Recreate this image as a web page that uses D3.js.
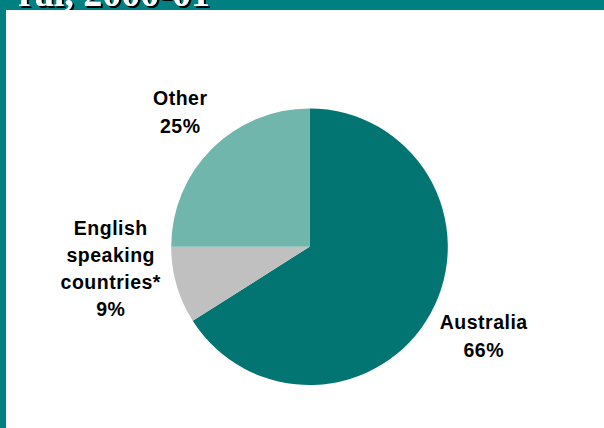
<!DOCTYPE html>
<html>
<head>
<meta charset="utf-8">
<script src="https://cdn.jsdelivr.net/npm/d3@7"></script>
<style>
  html, body { margin: 0; padding: 0; background: #ffffff; }
  svg { display: block; }
</style>
</head>
<body>
<script>
// ---- Data ----
const categories = ["Australia", "English speaking countries*", "Other"];
const labelLines = [["Australia"], ["English", "speaking", "countries*"], ["Other"]];
const values = [66, 9, 25];
const colors = ["#027572", "#C0C0C0", "#70B6AC"];
const titleText = "ral, 2000-01";

// ---- Layout ----
const W = 604, H = 428;
const cx = 309.5, cy = 246.7, R = 138.3;
const labelRadius = [195.6, 200.2, 186.8];
const labelNudgeDeg = [-1.6, 9.9, 1.1];
const lineH = [28, 27, 28];
const capH = 14;

const svg = d3.select("body").append("svg")
  .attr("width", W).attr("height", H);

// background and frame
svg.append("rect").attr("x", 0).attr("y", 0).attr("width", W).attr("height", H).attr("fill", "#ffffff");
svg.append("rect").attr("x", 0).attr("y", 0).attr("width", W).attr("height", 10).attr("fill", "#008080");
svg.append("rect").attr("x", 0).attr("y", 0).attr("width", 6).attr("height", H).attr("fill", "#008080");

// clipped title (mostly off-canvas), white with drop shadow
const defs = svg.append("defs");
defs.append("clipPath").attr("id", "titleClip")
  .append("rect").attr("x", 0).attr("y", 0).attr("width", W).attr("height", 10);
const f = defs.append("filter").attr("id", "shadow")
  .attr("x", "-5%").attr("y", "-20%").attr("width", "110%").attr("height", "140%");
f.append("feDropShadow").attr("dx", 2).attr("dy", 2).attr("stdDeviation", 0)
  .attr("flood-color", "#000").attr("flood-opacity", 1);
const tg = svg.append("g").attr("clip-path", "url(#titleClip)");
tg.append("text").attr("x", 210).attr("y", 6).attr("text-anchor", "end")
  .attr("font-family", "Liberation Serif, Times New Roman, serif").attr("font-weight", "bold")
  .attr("font-size", 38).attr("fill", "#ffffff").attr("filter", "url(#shadow)")
  .text(titleText);

// pie
const pie = d3.pie().sort(null).value(d => d)(values);
const arc = d3.arc().innerRadius(0).outerRadius(R);
const g = svg.append("g").attr("transform", `translate(${cx},${cy})`);
g.selectAll("path.slice").data(pie).join("path")
  .attr("class", "slice")
  .attr("d", arc)
  .attr("fill", (d, i) => colors[i]);

// labels
pie.forEach((d, i) => {
  const mid = (d.startAngle + d.endAngle) / 2 + labelNudgeDeg[i] * Math.PI / 180;
  const lx = Math.sin(mid) * labelRadius[i];
  const ly = -Math.cos(mid) * labelRadius[i];
  const lines = labelLines[i].concat([values[i] + "%"]);
  const n = lines.length;
  const firstBase = ly - (n - 1) * lineH[i] / 2 + capH / 2;
  const t = g.append("text")
    .attr("text-anchor", "middle")
    .attr("font-family", "Liberation Sans, Arial, sans-serif")
    .attr("font-weight", "bold")
    .attr("font-size", 19.5)
    .attr("letter-spacing", "0.5px")
    .attr("fill", "#000");
  lines.forEach((s, k) => {
    t.append("tspan").attr("x", lx + 0.25).attr("y", firstBase + k * lineH[i]).text(s);
  });
});
</script>
</body>
</html>
